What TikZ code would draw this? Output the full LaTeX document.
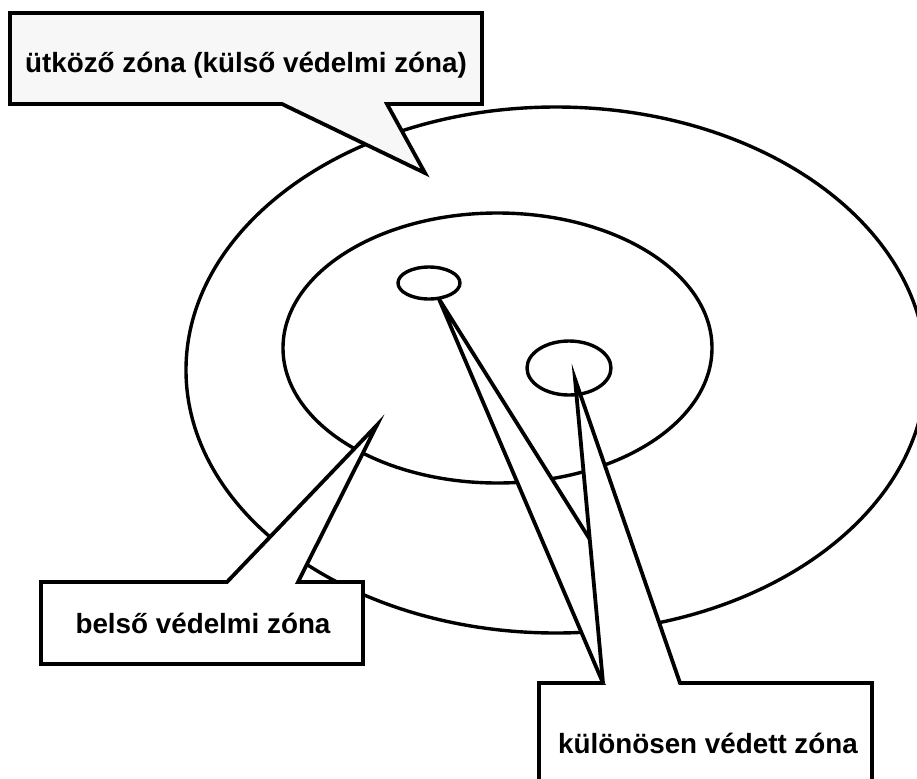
\documentclass[tikz,border=0pt]{standalone}
\usepackage{fontspec}
\setmainfont{Liberation Sans}
\usetikzlibrary{shapes.geometric}

\begin{document}
\begin{tikzpicture}[x=0.5pt,y=-0.5pt, line width=1.7pt,
    zone/.style={draw, ellipse, inner sep=0pt},
    callout/.style={draw, fill=white, line width=1.9pt},
    zonetext/.style={font=\fontsize{13.9}{16}\selectfont\bfseries, anchor=base, inner sep=0pt}]
    \useasboundingbox (0,0) rectangle (917,778);
    \clip (0,0) rectangle (917,778);
    % zones
    \node[zone, minimum width=370pt, minimum height=263pt] (outer) at (556,370) {};
    \node[zone, minimum width=214.5pt, minimum height=135pt] (inner) at (497.5,348) {};
    \node[zone, minimum width=31pt, minimum height=16pt] (spot1) at (429,283) {};
    \node[zone, minimum width=42pt, minimum height=27pt] (spot2) at (569,368) {};
    % pointer tips
    \coordinate (tipouter) at (425,173);
    \coordinate (tipinner) at (377,425);
    \coordinate (tipspot1) at (439,299);
    \coordinate (tipspot2) at (575,379);
    % callouts
    \draw[callout, fill=black!3] (10,13) -- (482,13) -- (482,104) -- (387,104) -- (tipouter) -- (282,104) -- (10,104) -- cycle;
    \node[zonetext] (outertext) at (246,72) {ütköző zóna (külső védelmi zóna)};
    \draw[callout] (41,582) -- (227,582) -- (tipinner) -- (298,582) -- (363,582) -- (363,664) -- (41,664) -- cycle;
    \node[zonetext] (innertext) at (203,633) {belső védelmi zóna};
    \draw[callout] (539,800) -- (539,683) -- (603,683) -- (tipspot1) -- (680,683) -- (872,683) -- (872,800);
    \fill[white] (603,683) -- (tipspot2) -- (680,683) -- cycle;
    \draw[line width=1.9pt] (603,683) -- (tipspot2) -- (680,683);
    \node[zonetext] (spottext) at (708,753) {különösen védett zóna};
\end{tikzpicture}
\end{document}
